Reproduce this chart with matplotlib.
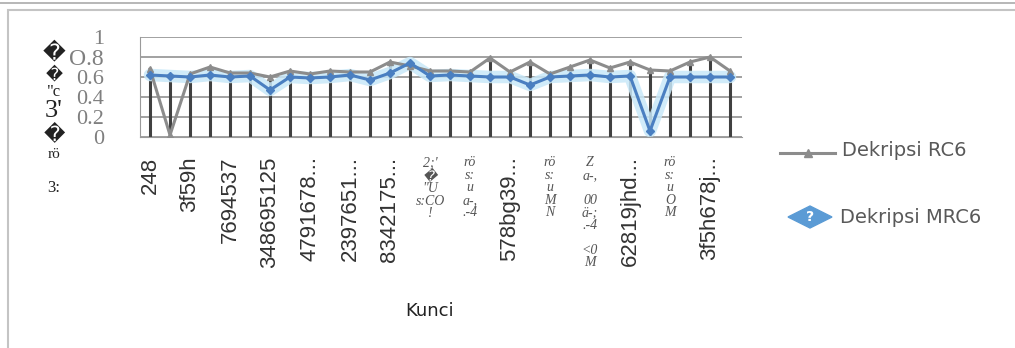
import numpy as np
import matplotlib
matplotlib.use('Agg')
import matplotlib.pyplot as plt
from matplotlib.patches import Polygon, Rectangle
from matplotlib.lines import Line2D

## data
rc6 = [0.68, 0.02, 0.63, 0.70, 0.64, 0.64, 0.60, 0.66, 0.63, 0.66,
       0.65, 0.65, 0.75, 0.71, 0.66, 0.66, 0.65, 0.79, 0.65, 0.75,
       0.63, 0.70, 0.77, 0.69, 0.75, 0.67, 0.66, 0.75, 0.80, 0.66]
mrc6 = [0.62, 0.61, 0.60, 0.62, 0.60, 0.61, 0.47, 0.60, 0.59, 0.60,
        0.62, 0.57, 0.64, 0.74, 0.61, 0.62, 0.61, 0.60, 0.60, 0.52,
        0.60, 0.61, 0.62, 0.60, 0.61, 0.06, 0.60, 0.60, 0.60, 0.60]
x_labels = ['248', '3f59h', '7694537', '348695125', '4791678...',
            '2397651...', '8342175...', "2;'\n\ufffd\n\"U\ns:CO\n!",
            'r\u00f6\ns:\nu\na-,\n.-4', '578bg39...', 'r\u00f6\ns:\nu\nM\nN',
            'Z\na-,\n\n00\n\u00e4-;\n.-4\n\n<0\nM', '62819jhd...',
            'r\u00f6\ns:\nu\nO\nM', '3f5h678j...']
y_ticks = [0, 0.2, 0.4, 0.6, 0.8, 1]
y_labels = ['0', '0.2', '0.4', '0.6', 'O.8', '1']
# garbled y-axis title, top to bottom
y_title = ['\ufffd', '\ufffd', '"c', "3'", '\ufffd', 'r\u00f6', '3:']
series_names = ['Dekripsi RC6', 'Dekripsi MRC6']
x_title = 'Kunci'

W, H = 1015, 348
def fx(p): return p / W
def fy(p): return 1 - p / H

fig = plt.figure(figsize=(W/100, H/100), dpi=100)
ax = fig.add_axes([fx(140), fy(137), fx(742-140), 100/H])

x = np.arange(len(rc6))
top = np.maximum(rc6, mrc6)

ax.vlines(x, 0, top, color='#404040', lw=2.2, zorder=2)
ax.plot(x, mrc6, color='#c8e8f8', lw=9, alpha=0.85, zorder=2.5, solid_capstyle='round')
ax.plot(x, rc6, color='#8c8c8c', lw=2.2, marker='^', ms=5, zorder=3)
ax.plot(x, mrc6, color='#4a7fc1', lw=2.2, marker='D', ms=4, zorder=4)

ax.set_xlim(-0.5, 29.6)
ax.set_ylim(0, 1)
ax.set_yticks(y_ticks)
ax.set_yticklabels(y_labels, family='Liberation Serif', fontsize=16, color='#7f7f7f')
for t in ax.get_yticklabels():
    if t.get_text().startswith('O'):
        t.set_fontsize(17)
ax.tick_params(axis='y', length=0, pad=26)
ax.yaxis.grid(True, color='#9a9a9a', lw=1.3)
ax.set_axisbelow(True)

ax.set_xticks(x[::2])
ax.set_xticklabels(x_labels)
ax.tick_params(axis='x', length=0, pad=14)
for t in ax.get_xticklabels():
    if '\n' in t.get_text():
        t.set_rotation(0)
        t.set_family(['Liberation Serif', 'DejaVu Sans'])
        t.set_style('italic')
        t.set_fontsize(10)
        t.set_color('#555555')
        t.set_linespacing(0.95)
        t.set_va('top')
    else:
        t.set_rotation(90)
        t.set_family('Liberation Sans')
        t.set_fontsize(16)
        t.set_color('#333333')
        t.set_va('top')

for s in ['top', 'right']:
    ax.spines[s].set_visible(False)
ax.spines['left'].set_color('#9a9a9a')
ax.spines['bottom'].set_color('#9a9a9a')

## garbled y-axis title
ypos = [53, 75, 92, 111, 135, 155, 188]
ysize = [16, 12, 12, 19, 15, 11, 12]
for s, yy, sz in zip(y_title, ypos, ysize):
    fig.text(fx(54), fy(yy), s, ha='center', va='center', fontsize=sz,
             family=['Liberation Serif', 'DejaVu Sans'], color='#222222')

fig.text(fx(430), fy(311), x_title, ha='center', va='center', fontsize=13, color='#222222')

## legend
fig.add_artist(Line2D([fx(780), fx(835)], [fy(153), fy(153)], color='#8c8c8c', lw=2.2))
fig.add_artist(Line2D([fx(808)], [fy(153)], marker='^', ms=6, color='#8c8c8c'))
fig.text(fx(842), fy(151), series_names[0], va='center', fontsize=14, color='#595959')
fig.add_artist(Polygon([(fx(788), fy(217)), (fx(810), fy(206)), (fx(832), fy(217)), (fx(810), fy(228))],
                       closed=True, transform=fig.transFigure, color='#5b9bd5'))
fig.text(fx(810), fy(217), '?', ha='center', va='center', fontsize=10, color='white', weight='bold')
fig.text(fx(840), fy(217), series_names[1], va='center', fontsize=14, color='#595959')

## frame of the chart box
fig.add_artist(Rectangle((fx(8), -0.1), 1.2, 1.1 - 10/H, transform=fig.transFigure,
                         fill=False, edgecolor='#c4c4c4', lw=1.5))
fig.add_artist(Line2D([0, 1], [fy(3), fy(3)], color='#aaaaaa', lw=1.2))

plt.savefig('out.png', dpi=100)
